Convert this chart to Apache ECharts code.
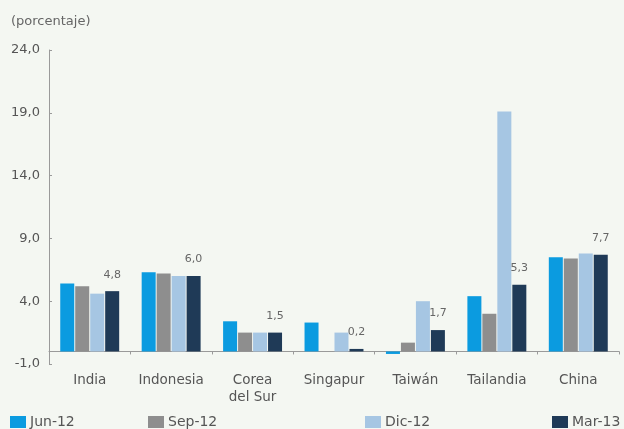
<!DOCTYPE html>
<html>
<head>
<meta charset="utf-8">
<script src="https://cdn.jsdelivr.net/npm/echarts@6/dist/echarts.min.js"></script>
<style>
html,body{margin:0;padding:0;background:#f4f7f2;}
#c{width:624px;height:429px;}
</style>
</head>
<body>
<div id="c"></div>
<script>
const categories = ['India', 'Indonesia', 'Corea\ndel Sur', 'Singapur', 'Taiwán', 'Tailandia', 'China'];
const seriesNames = ['Jun-12', 'Sep-12', 'Dic-12', 'Mar-13'];
const jun12 = [5.4, 6.3, 2.4, 2.3, -0.2, 4.4, 7.5];
const sep12 = [5.2, 6.2, 1.5, 0.0, 0.7, 3.0, 7.4];
const dic12 = [4.6, 6.0, 1.5, 1.5, 4.0, 19.1, 7.8];
const mar13 = [4.8, 6.0, 1.5, 0.2, 1.7, 5.3, 7.7];
const yTicks = [-1, 4, 9, 14, 19, 24];

const colors = ['#0b9be0', '#8e8e8e', '#a6c6e3', '#1f3a57'];
const FONT = 'DejaVu Sans';
const fmt = v => Number(v).toFixed(1).replace('.', ',');

const chart = echarts.init(document.getElementById('c'), null, {renderer: 'canvas'});
const dataSets = [jun12, sep12, dic12, mar13];
const legendLefts = [10, 148, 365, 552];

const option = {
  backgroundColor: '#f4f7f2',
  animation: false,
  title: {
    text: '(porcentaje)', left: 6, top: 10,
    textStyle: {fontSize: 13, fontWeight: 'normal', color: '#666', fontFamily: FONT}
  },
  legend: seriesNames.map((n, i) => ({
    data: [n], left: legendLefts[i], top: 415, padding: 0,
    itemWidth: 16, itemHeight: 12, itemGap: 4,
    icon: 'rect',
    textStyle: {fontSize: 14, color: '#555', fontFamily: FONT, padding: [0, 0, 0, -1]}
  })),
  grid: {left: 49, right: 5, top: 50, bottom: 65, containLabel: false},
  xAxis: {
    type: 'category',
    data: categories,
    axisLine: {onZero: true, lineStyle: {color: '#9a9a9a', width: 1}},
    axisTick: {show: true, length: 3, lineStyle: {color: '#9a9a9a'}},
    axisLabel: {interval: 0, margin: 8, fontSize: 13.5, color: '#555', lineHeight: 17, fontFamily: FONT}
  },
  yAxis: {
    type: 'value', min: -1, max: 24, interval: 5,
    splitLine: {show: false},
    axisLine: {show: true, lineStyle: {color: '#9a9a9a'}},
    axisTick: {show: true, inside: true, length: 3, lineStyle: {color: '#9a9a9a'}, customValues: yTicks},
    axisLabel: {formatter: fmt, fontSize: 13, color: '#555', margin: 9, fontFamily: FONT, customValues: yTicks}
  },
  series: seriesNames.map((n, i) => ({
    name: n, type: 'bar',
    data: dataSets[i],
    barWidth: 14, barGap: '7%',
    itemStyle: {color: colors[i]},
    label: i === 3 ? {
      show: true, position: 'top', distance: 11,
      formatter: p => fmt(p.value),
      fontSize: 11, color: '#666', fontFamily: FONT
    } : {show: false}
  }))
};
chart.setOption(option);
</script>
</body>
</html>
